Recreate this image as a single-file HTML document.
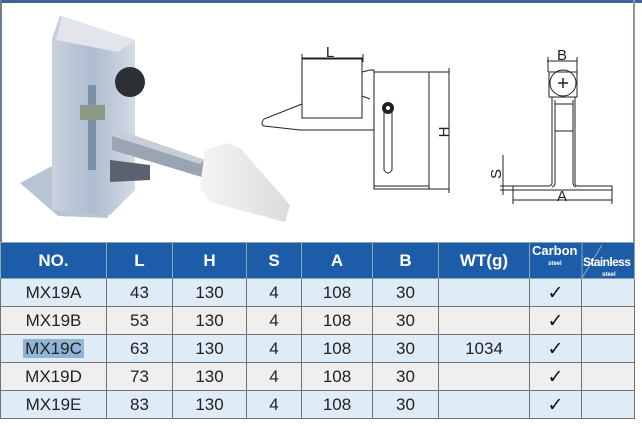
<!DOCTYPE html>
<html><head><meta charset="utf-8"><style>
html,body{margin:0;padding:0;background:#fff;}
body{width:642px;height:426px;position:relative;overflow:hidden;font-family:"Liberation Sans",sans-serif;}
#top{position:absolute;left:0;top:0;width:642px;height:242px;}
table{position:absolute;left:0;top:242px;border-collapse:collapse;table-layout:fixed;width:634px;}
td,th{border:1px solid #6f7478;text-align:center;padding:0;font-size:17px;color:#222;}
th{background:#1d5ca8;color:#fff;height:35px;font-weight:bold;font-size:17px;border-color:#8aa;}
td{height:27px;}
tr.b td{background:#dfebf6;}
tr.g td{background:#efefef;}
.sel{background:#8fb4d6;padding:0 2px;}
.ck{font-weight:bold;font-size:19px;color:#111;font-family:"DejaVu Sans",sans-serif;}
</style></head><body>
<svg id="top" width="642" height="242" viewBox="0 0 642 242">
<rect x="0" y="0" width="642" height="242" fill="#fff"/>
<rect x="0" y="0" width="642" height="3" fill="#3d6391"/>
<rect x="0" y="0" width="2" height="242" fill="#6a7c90"/>
<rect x="633" y="0" width="2" height="242" fill="#8a96a2"/>
<defs>
<linearGradient id="m" x1="0" x2="1"><stop offset="0" stop-color="#c9d2de"/><stop offset=".5" stop-color="#aebbd0"/><stop offset="1" stop-color="#d5dbe6"/></linearGradient>
<linearGradient id="w" x1="0" x2="1"><stop offset="0" stop-color="#f4f4f4"/><stop offset="1" stop-color="#dcdcdc"/></linearGradient>
</defs>
<polygon points="20,183 52,166 108,168 108,218 58,216" fill="#b8c4d4"/>
<polygon points="52,38 60,16 135,40 135,190 110,215 52,210" fill="url(#m)"/>
<polygon points="62,16 135,40 118,52 56,40" fill="#e2e6ec"/>
<polygon points="110,160 150,165 150,180 110,182" fill="#5a6270"/>
<polygon points="112,128 205,160 205,178 112,150" fill="#9aa4b2"/>
<polygon points="112,128 205,160 200,164 112,136" fill="#c8ced6"/>
<circle cx="130" cy="82" r="15" fill="#2d3036"/>
<rect x="88" y="85" width="8" height="85" fill="#7c90a8"/>
<rect x="80" y="105" width="25" height="15" fill="#8b9a84"/>
<polygon points="205,150 228,143 240,148 290,205 285,222 210,202 200,188" fill="url(#w)"/>
<g stroke="#222" stroke-width="1" fill="none">
<rect x="302" y="59" width="60" height="59"/>
<path d="M302,104 L264,119 Q260,124 264,126 L300,130 L374,130"/>
<path d="M362,72 L370,70 L374,70 L374,186 M362,72 L362,96 L370,99"/>
<rect x="374" y="72" width="75" height="117"/>
<line x1="429" y1="72" x2="429" y2="189"/>
<line x1="374" y1="186" x2="429" y2="186"/>
<path d="M384,112 L384,170 Q388,176 392,170 L392,112"/>
<line x1="449" y1="68" x2="449" y2="193"/>
<line x1="302" y1="58" x2="363" y2="58"/>
<line x1="302" y1="54" x2="302" y2="62"/><line x1="363" y1="54" x2="363" y2="62"/>
</g>
<circle cx="388" cy="108" r="6" fill="#222"/><circle cx="388" cy="108" r="2" fill="#fff"/>
<text x="330" y="57" font-size="15" font-family="Liberation Sans" fill="#222" text-anchor="middle">L</text>
<text transform="translate(444,132) rotate(-90)" font-size="15" font-family="Liberation Sans" fill="#222" text-anchor="middle" dy="5">H</text>
<g stroke="#222" stroke-width="1" fill="none">
<line x1="547" y1="61" x2="577" y2="61"/>
<line x1="548" y1="57" x2="548" y2="72"/><line x1="577" y1="57" x2="577" y2="72"/>
<rect x="549" y="72" width="28" height="25"/>
<circle cx="563" cy="83" r="13"/>
<path d="M552,97 L552,183 Q552,186 548,186 L513,186 L513,190 L612,190 L612,186 L578,186 Q575,186 575,183 L575,97"/>
<path d="M555,100 L555,183 Q555,186 552,187 M573,100 L573,183 Q573,186 576,187"/>
<line x1="555" y1="104" x2="573" y2="104"/>
<line x1="555" y1="131" x2="573" y2="131"/>
<line x1="513" y1="200" x2="612" y2="200"/>
<line x1="513" y1="190" x2="513" y2="204"/><line x1="612" y1="190" x2="612" y2="204"/>
<line x1="503" y1="155" x2="503" y2="195"/>
<line x1="500" y1="186" x2="515" y2="186"/><line x1="500" y1="190" x2="515" y2="190"/>
</g>
<path d="M563,78 L563,88 M558,83 L568,83" stroke="#222" stroke-width="1.5"/>
<text x="562" y="60" font-size="15" font-family="Liberation Sans" fill="#222" text-anchor="middle">B</text>
<text x="562" y="201" font-size="15" font-family="Liberation Sans" fill="#222" text-anchor="middle">A</text>
<text transform="translate(496,174) rotate(-90)" font-size="15" font-family="Liberation Sans" fill="#222" text-anchor="middle" dy="5">S</text>
</svg>
<table>
<colgroup><col style="width:106px"><col style="width:66px"><col style="width:74px"><col style="width:55px"><col style="width:71px"><col style="width:66px"><col style="width:91px"><col style="width:52px"><col style="width:53px"></colgroup>
<tr><th>NO.</th><th>L</th><th>H</th><th>S</th><th>A</th><th>B</th><th>WT(g)</th>
<th colspan="2" style="position:relative;font-size:12px;line-height:12px;">
<svg width="105" height="35" style="position:absolute;left:0;top:0"><line x1="52" y1="35" x2="72" y2="2" stroke="#9ab" stroke-width="1"/><line x1="52" y1="0" x2="52" y2="35" stroke="#8aa" stroke-width="1"/></svg>
<span style="position:absolute;left:2px;top:2px;font-size:13px;">Carbon</span>
<span style="position:absolute;left:18px;top:15px;font-size:6px;">steel</span>
<span style="position:absolute;left:53px;top:13px;font-size:12px;letter-spacing:-0.6px;">Stainless</span>
<span style="position:absolute;left:72px;top:26px;font-size:6px;">steel</span>
</th></tr>
<tr class="b"><td>MX19A</td><td>43</td><td>130</td><td>4</td><td>108</td><td>30</td><td></td><td class="ck">✓</td><td></td></tr>
<tr class="g"><td>MX19B</td><td>53</td><td>130</td><td>4</td><td>108</td><td>30</td><td></td><td class="ck">✓</td><td></td></tr>
<tr class="b"><td><span class="sel">MX19C</span></td><td>63</td><td>130</td><td>4</td><td>108</td><td>30</td><td>1034</td><td class="ck">✓</td><td></td></tr>
<tr class="g"><td>MX19D</td><td>73</td><td>130</td><td>4</td><td>108</td><td>30</td><td></td><td class="ck">✓</td><td></td></tr>
<tr class="b"><td>MX19E</td><td>83</td><td>130</td><td>4</td><td>108</td><td>30</td><td></td><td class="ck">✓</td><td></td></tr>
</table>
</body></html>
